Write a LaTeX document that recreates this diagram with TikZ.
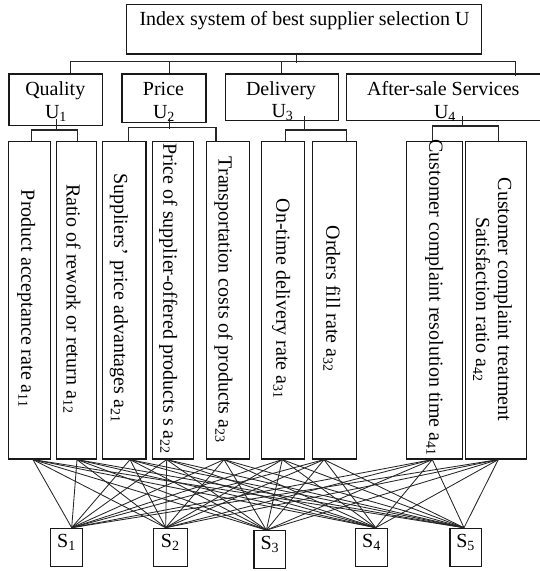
\documentclass[tikz,border=0pt]{standalone}
\usepackage{fontspec}
\setmainfont{Liberation Serif}
\usetikzlibrary{calc}
\begin{document}
\begin{tikzpicture}[x=1pt,y=-1pt,
  box/.style={draw=black!90, line width=1.2pt, inner sep=0pt, rectangle},
  txt/.style={inner sep=0pt, font=\fontsize{20}{24}\selectfont},
  vtxt/.style={txt, rotate=-90, align=center},
  stxt/.style={box, font=\fontsize{20}{24}\selectfont, text height=12pt, text depth=13pt},
  tree/.style={draw=black!85, line width=1.3pt},
  link/.style={draw=black!85, line width=0.85pt}
]
\useasboundingbox (0,0) rectangle (539,571);

% top
\node[box, minimum width=354.6pt, minimum height=49.3pt] (top) at (304,29.35) {};
\node[txt, anchor=base] (toptxt) at (304.5,25) {Index system of best supplier selection U};

% second level
\node[box, minimum width=93.7pt, minimum height=51.7pt] (q) at (55.85,99.85) {};
\node[box, minimum width=84pt, minimum height=48.3pt] (p) at (164,98.15) {};
\node[box, minimum width=113pt, minimum height=46.7pt] (d) at (281.8,97.35) {};
\node[box, minimum width=203.7pt, minimum height=46.7pt] (as) at (448.15,97.35) {};

\node[txt, anchor=base] (qt1) at (55.3,95) {Quality};
\node[txt, anchor=base] (qt2) at (56,118.5) {U\textsubscript{1}};
\node[txt, anchor=base] (pt1) at (163.5,95) {Price};
\node[txt, anchor=base] (pt2) at (164,118.5) {U\textsubscript{2}};
\node[txt, anchor=base] (dt1) at (281,95) {Delivery};
\node[txt, anchor=base] (dt2) at (282.5,117.5) {U\textsubscript{3}};
\node[txt, anchor=base] (at1) at (443.3,95) {After-sale Services};
\node[txt, anchor=base] (at2) at (445,118) {U\textsubscript{4}};

% leaves
\foreach \n/\cx/\w in {1/29.7/42, 2/76.5/40.4, 3/124.35/43.3, 4/172.8/41, 5/228/42.6,
                       6/283.2/43, 7/334.3/44, 8/434.3/56, 9/496/60.6}
  \node[box, minimum width=\w pt, minimum height=317.3pt] (l\n) at (\cx,300.35) {};

\node[vtxt] (lt1) at ($(l1)+(-3.5,-1.5)$) {Product acceptance rate a\textsubscript{11}};
\node[vtxt] (lt2) at ($(l2)+(-4.5,-1.5)$) {Ratio of rework or return a\textsubscript{12}};
\node[vtxt] (lt3) at ($(l3)+(-5.5,-2.5)$) {Suppliers’ price advantages a\textsubscript{21}};
\node[vtxt] (lt4) at ($(l4)+(-4.5,-1.5)$) {Price of supplier-offered products s a\textsubscript{22}};
\node[vtxt] (lt5) at ($(l5)+(-4.5,-0.5)$) {Transportation costs of products a\textsubscript{23}};
\node[vtxt] (lt6) at ($(l6)+(-2,-1.5)$) {On-time delivery rate a\textsubscript{31}};
\node[vtxt] (lt7) at ($(l7)+(-2.5,-1.5)$) {Orders fill rate a\textsubscript{32}};
\node[vtxt] (lt8) at ($(l8)+(0,-2.5)$) {Customer complaint resolution time a\textsubscript{41}};
\node[vtxt, font=\fontsize{20}{22}\selectfont] (lt9) at ($(l9)+(-3.5,-1)$) {Customer complaint treatment\\Satisfaction ratio a\textsubscript{42}};

% suppliers
\node[stxt, minimum width=31.6pt, minimum height=38.4pt] (s1) at (66.5,547.5) {S\textsubscript{1}};
\node[stxt, minimum width=34pt, minimum height=38.4pt] (s2) at (170.3,547.5) {S\textsubscript{2}};
\node[stxt, minimum width=31.7pt, minimum height=37.6pt] (s3) at (269.85,549.5) {S\textsubscript{3}};
\node[stxt, minimum width=31.6pt, minimum height=38.4pt] (s4) at (371.5,547.5) {S\textsubscript{4}};
\node[stxt, minimum width=31.3pt, minimum height=38.4pt] (s5) at (465.65,547.5) {S\textsubscript{5}};

% tree connectors
\draw[tree] ([xshift=-7.7pt]top.south) -- ++(0,8.3);
\draw[tree] ([xshift=14.85pt]q.north) -- ++(0,-11.7) -| ([xshift=67.55pt,yshift=-3pt]as.north);
\draw[tree] ([xshift=5.3pt]p.north) -- ++(0,-11.7);
\draw[tree] ([xshift=-0.5pt]d.north) -- ++(0,-11.7);

\draw[tree] ([xshift=0.85pt,yshift=7.7pt]q.south) -- ++(0,12.7);
\draw[tree] ([xshift=2pt]l1.north) -- ++(0,-11) -| ([xshift=0.8pt]l2.north);
\draw[tree] ([xshift=5.3pt,yshift=5.3pt]p.south) -- ++(0,11.3);
\draw[tree] ([xshift=3.95pt]l3.north) -- ++(0,-13.4) -| ([xshift=-12pt]l5.north);
\draw[tree] ([xshift=22.9pt,yshift=5pt]d.south) -- ++(0,15);
\draw[tree] ([xshift=2.5pt]l6.north) -- ++(0,-11) -| ([xshift=12pt]l7.north);
\draw[tree] ([xshift=14.15pt,yshift=5.7pt]as.south) -- ++(0,11.7);
\draw[tree] ([xshift=-2pt]l8.north) -- ++(0,-15) -| ([xshift=2.7pt]l9.north);

% links
\foreach \i/\dx in {1/3.3, 2/0.5, 3/5.65, 4/-6.1, 5/-4, 6/-0.9, 7/-10.3, 8/-2, 9/2.3}
  \coordinate (lb\i) at ([xshift=\dx pt]l\i.south);
\foreach \j/\dx in {1/5.2, 2/-4.6, 3/-3.45, 4/4.2, 5/-1.65}
  \coordinate (st\j) at ([xshift=\dx pt]s\j.north);
\foreach \i in {1,...,9}
  \foreach \j in {1,...,5}
    \draw[link] (lb\i) -- (st\j);
\end{tikzpicture}
\end{document}
